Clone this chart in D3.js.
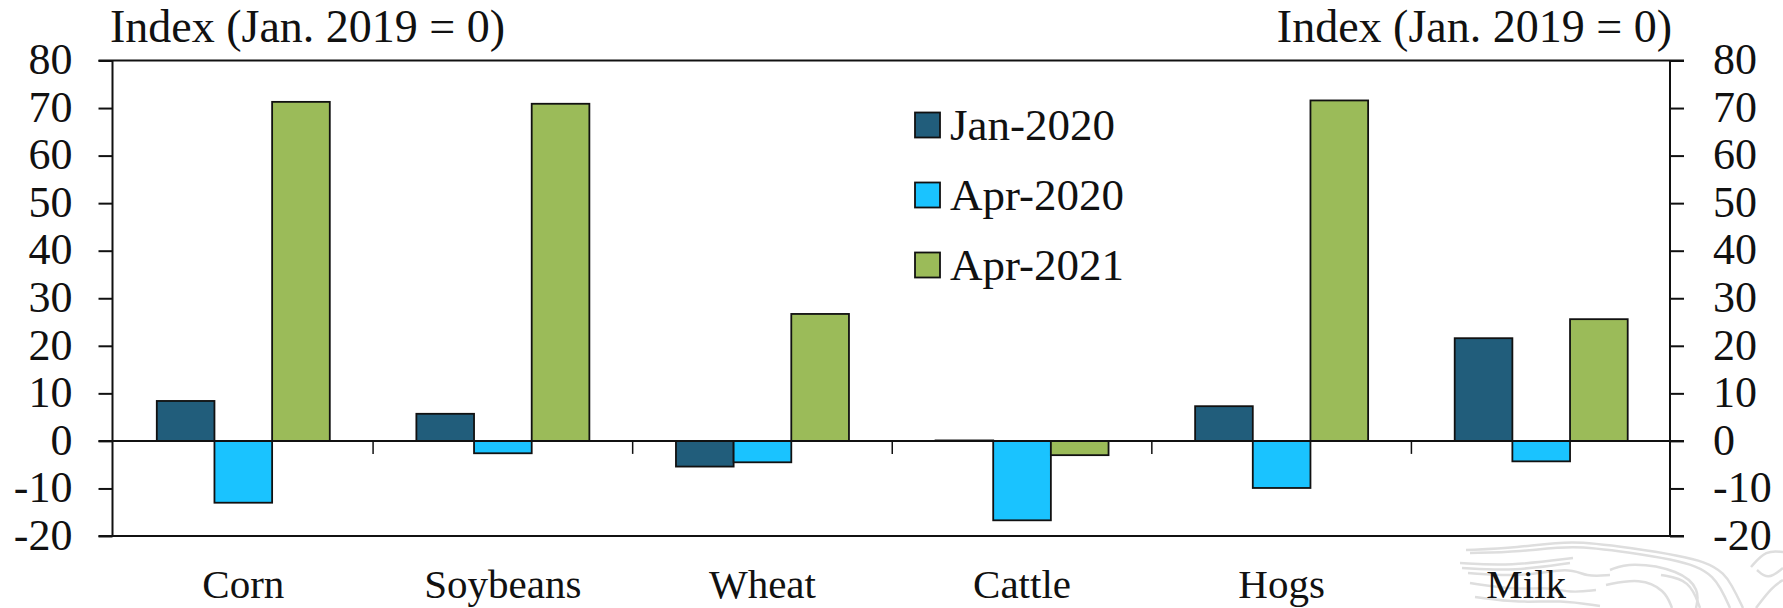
<!DOCTYPE html>
<html><head><meta charset="utf-8">
<style>html,body{margin:0;padding:0;background:#fff}svg{display:block}text{font-family:"Liberation Serif",serif;fill:#111}</style>
<script src="https://cdn.jsdelivr.net/npm/d3@7"></script></head><body><script>
const categories=["Corn","Soybeans","Wheat","Cattle","Hogs","Milk"];
const seriesNames=["Jan-2020","Apr-2020","Apr-2021"];
const jan2020=[8.4,5.7,-5.4,0.1,7.3,21.6];
const apr2020=[-13,-2.6,-4.5,-16.7,-9.9,-4.3];
const apr2021=[71.3,70.9,26.7,-3,71.6,25.6];
const seriesColors=["#215d7b","#1ac3ff","#9bbb59"];
const yTicks=[80,70,60,50,40,30,20,10,0,-10,-20];
const axisTitle="Index (Jan. 2019 = 0)";
const seriesValues=[jan2020,apr2020,apr2021];
const W=1783,H=608,L=112.5,R=1670,T=60.5,B=536;
const svg=d3.select("body").append("svg").attr("width",W).attr("height",H);
// faint watermark (decorative background art)
const wm=d3.line().curve(d3.curveBasis);
[[[1466,550],[1516,548],[1573,540],[1623,547],[1716,560],[1733,587],[1743,608]],
 [[1470,553],[1520,552],[1573,545],[1625,552],[1705,564],[1722,590],[1730,608]],
 [[1460,563],[1510,566],[1573,558]],[[1462,568],[1515,571],[1570,563]],
 [[1468,573],[1523,577],[1570,567],[1586,577],[1610,575]],
 [[1470,583],[1516,590],[1550,587],[1570,593],[1596,590]],
 [[1475,597],[1520,603],[1560,600],[1600,606]],
 [[1610,570],[1630,562],[1680,570],[1700,590],[1696,608]],
 [[1606,585],[1640,578],[1665,590],[1672,608]],
 [[1661,575],[1690,580],[1700,608]],
 [[1751,567],[1766,550],[1783,552]],[[1757,570],[1768,580],[1783,568]],
 [[1756,608],[1772,587],[1783,580]]
].forEach(p=>svg.append("path").attr("d",wm(p)).attr("fill","none").attr("stroke","#dedede").attr("stroke-width",2.5));
const x=d3.scaleBand().domain(categories).range([L+1,R+1]);
const x1=d3.scaleBand().domain(seriesNames).range([x.bandwidth()/2-86.5,x.bandwidth()/2+86.5]);
const y=d3.scaleLinear().domain([-20,80]).range([B,T]);
const fmt=d=>String(d);
function styleAxis(g){g.selectAll("line").attr("stroke","#111").attr("stroke-width",2);g.select(".domain").remove();}
const la=svg.append("g").attr("transform",`translate(${L},0)`).call(d3.axisLeft(y).tickValues(yTicks).tickSize(14).tickFormat(fmt)).call(styleAxis);
la.selectAll("text").attr("x",-40).attr("dy",".3em").style("font-size","44px").attr("text-anchor","end");
const ra=svg.append("g").attr("transform",`translate(${R},0)`).call(d3.axisRight(y).tickValues(yTicks).tickSize(14).tickFormat(fmt)).call(styleAxis);
ra.selectAll("text").attr("x",43).attr("dy",".3em").style("font-size","44px").attr("text-anchor","start");
[L,R].forEach(v=>svg.append("line").attr("x1",v).attr("x2",v).attr("y1",T).attr("y2",B).attr("stroke","#111").attr("stroke-width",2));
[T,B].forEach(v=>svg.append("line").attr("x1",L-14).attr("x2",R+14).attr("y1",v).attr("y2",v).attr("stroke","#111").attr("stroke-width",2));
svg.append("g").selectAll("g").data(seriesValues).join("g").each(function(vals,si){
 d3.select(this).selectAll("rect").data(vals).join("rect")
 .attr("x",(d,i)=>x(categories[i])+x1(seriesNames[si]))
 .attr("width",x1.bandwidth())
 .attr("y",d=>y(Math.max(d,0))).attr("height",d=>Math.abs(y(d)-y(0)))
 .attr("fill",seriesColors[si]).attr("stroke","#111").attr("stroke-width",1.8);
});
svg.append("line").attr("x1",L-14).attr("x2",R+14).attr("y1",y(0)).attr("y2",y(0)).attr("stroke","#111").attr("stroke-width",2);
categories.slice(1).forEach(c=>svg.append("line").attr("x1",x(c)).attr("x2",x(c)).attr("y1",y(0)).attr("y2",y(0)+13).attr("stroke","#111").attr("stroke-width",1.5));
svg.selectAll("text.cat").data(categories).join("text").attr("class","cat").attr("x",d=>x(d)+x.bandwidth()/2).attr("dx",d=>d==="Milk"?-15:0).attr("y",598).attr("text-anchor","middle").style("font-size","41px").text(d=>d);
svg.append("text").attr("x",110).attr("y",42).style("font-size","46px").text(axisTitle);
svg.append("text").attr("x",1672).attr("y",42).attr("text-anchor","end").style("font-size","46px").text(axisTitle);
const lg=svg.append("g").selectAll("g").data(seriesNames).join("g").attr("transform",(d,i)=>`translate(915,${112.5+i*70})`);
lg.append("rect").attr("width",25).attr("height",25).attr("fill",(d,i)=>seriesColors[i]).attr("stroke","#111").attr("stroke-width",1.8);
lg.append("text").attr("x",35).attr("y",27).style("font-size","45px").text(d=>d);
</script></body></html>
